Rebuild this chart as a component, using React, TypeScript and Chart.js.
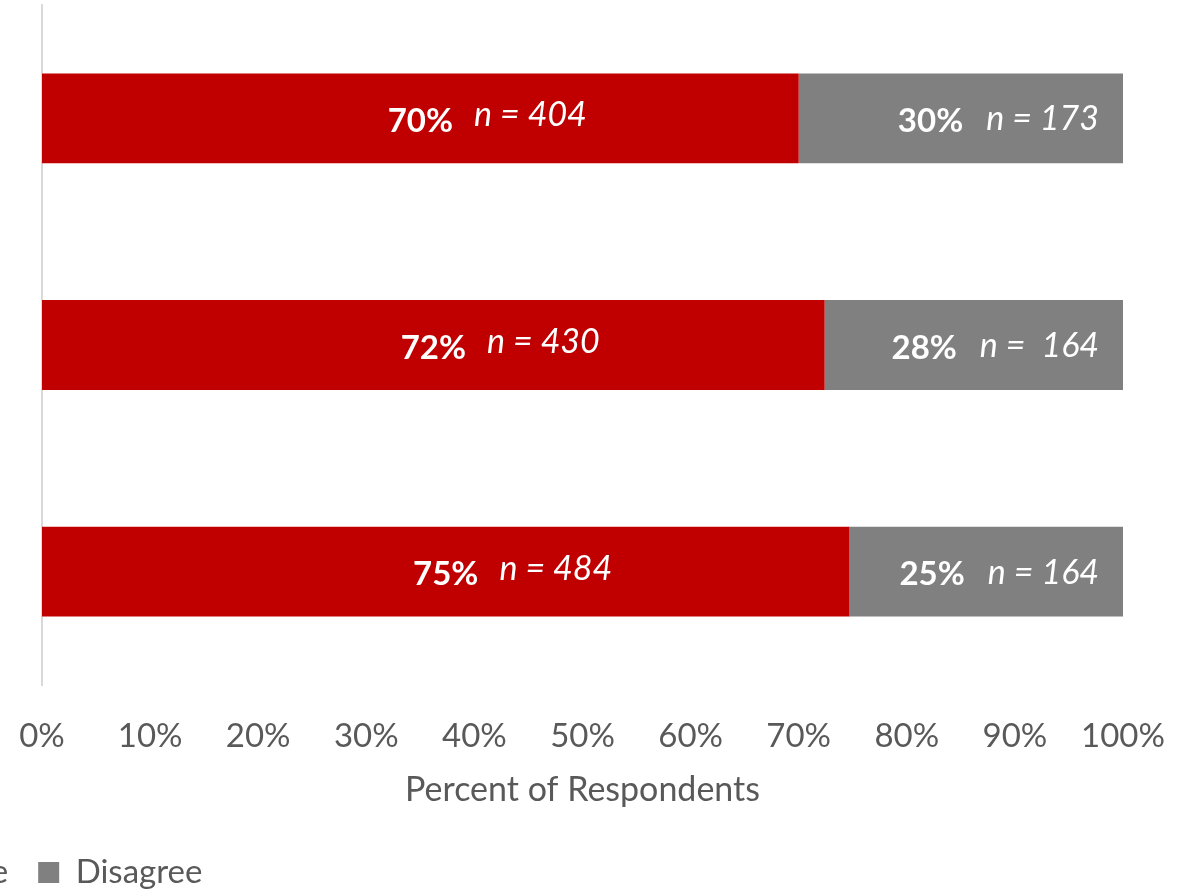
import React, { useEffect, useRef } from 'react';
import { Chart, registerables } from 'chart.js';
Chart.register(...registerables);

const categories = ['Item 1', 'Item 2', 'Item 3'];
const agreePct = [70.0, 72.4, 74.7];
const disagreePct = [30.0, 27.6, 25.3];
const agreePctLabels = ['70%', '72%', '75%'];
const agreeNLabels = ['n = 404', 'n = 430', 'n = 484'];
const disagreePctLabels = ['30%', '28%', '25%'];
const disagreeNLabels = ['n = 173', 'n =  164', 'n = 164'];
const seriesNames = ['Agree', 'Disagree'];
const axisTitle = 'Percent of Respondents';

const RED = '#C00000';
const GREY = '#808080';
const TEXT = '#595959';
const FONT = 'Lato';
const LEGEND_SIZE = 33;
const LEGEND_BOX = 21;
const LEGEND_PAD = 30;

const labelPlugin = {
  id: 'segLabels',
  afterDatasetsDraw(chart: any) {
    const ctx = chart.ctx;
    ctx.save();
    ctx.fillStyle = '#ffffff';
    ctx.textBaseline = 'middle';
    const boldFont = `bold 33px ${FONT}`;
    const italFont = `italic 34px ${FONT}`;
    const m0 = chart.getDatasetMeta(0);
    const m1 = chart.getDatasetMeta(1);
    m0.data.forEach((el: any, i: number) => {
      const { x, y, base } = el.getProps(['x', 'y', 'base'], true);
      const cx = (x + base) / 2;
      ctx.font = boldFont;
      ctx.textAlign = 'center';
      ctx.fillText(agreePctLabels[i], cx, y + 3);
      const w = ctx.measureText(agreePctLabels[i]).width;
      ctx.font = italFont;
      ctx.textAlign = 'left';
      ctx.fillText(agreeNLabels[i], cx + w / 2 + 21, y - 3);
    });
    m1.data.forEach((el: any, i: number) => {
      const { x, y } = el.getProps(['x', 'y'], true);
      ctx.font = italFont;
      ctx.textAlign = 'right';
      const nx = x - 24;
      ctx.fillText(disagreeNLabels[i], nx, y + 1);
      const nw = ctx.measureText(disagreeNLabels[i]).width;
      ctx.font = boldFont;
      ctx.fillText(disagreePctLabels[i], nx - nw - 23, y + 3);
    });
    ctx.restore();
  },
};

export default function App() {
  const ref = useRef<HTMLCanvasElement | null>(null);

  useEffect(() => {
    const canvas = ref.current!;
    const mctx = document.createElement('canvas').getContext('2d')!;
    mctx.font = `${LEGEND_SIZE}px ${FONT}`;
    const tw = mctx.measureText(seriesNames[0]).width;
    const L = Math.round(LEGEND_PAD + LEGEND_BOX + LEGEND_SIZE / 2 + tw + LEGEND_PAD - 38);
    const W = 1197 + L;
    const H = 899;
    canvas.width = W;
    canvas.height = H;
    canvas.style.width = W + 'px';
    canvas.style.height = H + 'px';
    canvas.style.left = -L + 'px';

    const chart = new Chart(canvas, {
      type: 'bar',
      data: {
        labels: categories,
        datasets: [
          {
            label: seriesNames[0],
            data: agreePct,
            backgroundColor: RED,
            borderWidth: 0,
            barPercentage: 0.3965,
            categoryPercentage: 1,
          },
          {
            label: seriesNames[1],
            data: disagreePct,
            backgroundColor: GREY,
            borderWidth: 0,
            barPercentage: 0.3965,
            categoryPercentage: 1,
          },
        ],
      },
      options: {
        indexAxis: 'y',
        responsive: false,
        animation: false,
        devicePixelRatio: 1,
        layout: { padding: { top: 5, left: 0, right: 74, bottom: 0 } },
        plugins: {
          tooltip: { enabled: false },
          legend: {
            position: 'bottom',
            align: 'start',
            labels: {
              boxWidth: LEGEND_BOX,
              boxHeight: LEGEND_BOX,
              padding: LEGEND_PAD,
              color: TEXT,
              font: { family: FONT, size: LEGEND_SIZE },
            },
          },
        },
        scales: {
          x: {
            stacked: true,
            min: 0,
            max: 100,
            ticks: {
              stepSize: 10,
              color: TEXT,
              padding: 32,
              font: { family: FONT, size: 33 },
              callback: (v: any) => v + '%',
            },
            grid: { display: false, drawTicks: false },
            border: { display: false },
            title: {
              display: true,
              text: axisTitle,
              color: TEXT,
              font: { family: FONT, size: 34 },
              padding: { top: 0, bottom: 16 },
            },
            afterFit: (scale: any) => {
              scale.height = 141;
              scale.paddingRight = 0;
              scale.paddingLeft = 0;
            },
          },
          y: {
            stacked: true,
            ticks: { display: false },
            grid: { display: false, drawTicks: false },
            border: { display: true, color: '#D9D9D9', width: 2 },
            afterFit: (scale: any) => {
              scale.width = 42 + L;
            },
          },
        },
      },
      plugins: [labelPlugin],
    } as any);
    return () => chart.destroy();
  }, []);

  return (
    <div
      style={{
        position: 'absolute',
        left: 0,
        top: 0,
        width: 1197,
        height: 889,
        overflow: 'hidden',
        background: '#ffffff',
      }}
    >
      <canvas ref={ref} style={{ position: 'absolute', top: 0 }} />
    </div>
  );
}
